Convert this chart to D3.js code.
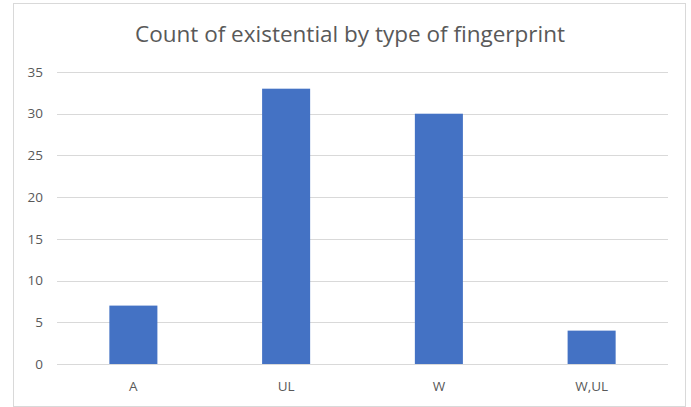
<!DOCTYPE html>
<html>
<head>
<meta charset="utf-8">
<script src="https://cdn.jsdelivr.net/npm/d3@7"></script>
<style>
  body { margin: 0; background: #fff; }
  text { font-family: "Open Sans", sans-serif; fill: #595959; }
</style>
</head>
<body>
<svg width="691" height="407"></svg>
<script>
const categories = ["A", "UL", "W", "W,UL"];
const counts = [7, 33, 30, 4];
const yTicks = [0, 5, 10, 15, 20, 25, 30, 35];
const title = "Count of existential by type of fingerprint";

const svg = d3.select("svg");

// chart frame
svg.append("rect")
    .attr("x", 13.5).attr("y", 3.5)
    .attr("width", 672).attr("height", 403)
    .attr("fill", "#fff")
    .attr("stroke", "#d9d9d9");

const plot = {left: 57, right: 668, top: 72, bottom: 364};

let x = d3.scaleBand().domain(categories).range([plot.left, plot.right]);
let y = d3.scaleLinear().domain([0, 35]).range([plot.bottom, plot.top]);

// gridlines
svg.append("g")
    .selectAll("line")
    .data(yTicks)
    .enter().append("line")
    .attr("x1", plot.left).attr("x2", plot.right)
    .attr("y1", d => Math.round(y(d)) + 0.5)
    .attr("y2", d => Math.round(y(d)) + 0.5)
    .attr("stroke", "#d9d9d9");

// y labels
svg.append("g")
    .selectAll("text")
    .data(yTicks)
    .enter().append("text")
    .attr("x", 43)
    .attr("y", d => y(d))
    .attr("dy", "0.35em")
    .attr("text-anchor", "end")
    .attr("font-size", 13.5)
    .text(d => d);

// bars
const barW = x.bandwidth() / 3.18;
svg.append("g")
    .selectAll("rect")
    .data(d3.zip(categories, counts))
    .enter().append("rect")
    .attr("x", d => x(d[0]) + (x.bandwidth() - barW) / 2)
    .attr("width", barW)
    .attr("y", d => y(d[1]))
    .attr("height", d => y(0) - y(d[1]))
    .attr("fill", "#4472c4");

// x labels
svg.append("g")
    .selectAll("text")
    .data(categories)
    .enter().append("text")
    .attr("x", d => x(d) + x.bandwidth() / 2)
    .attr("y", 391)
    .attr("text-anchor", "middle")
    .attr("font-size", 13.5)
    .text(d => d);

svg.append("text")
    .attr("x", 350)
    .attr("y", 42)
    .attr("text-anchor", "middle")
    .attr("font-size", 22.5)
    .text(title);
</script>
</body>
</html>
